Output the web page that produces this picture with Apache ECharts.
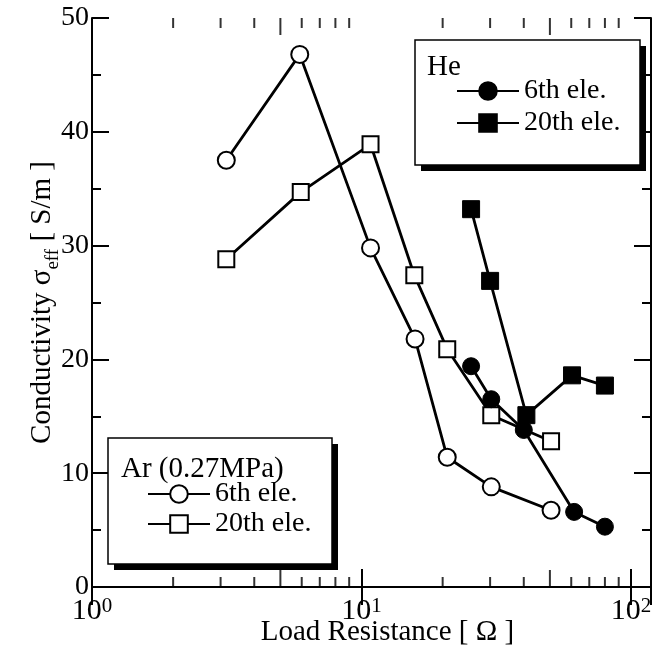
<!DOCTYPE html>
<html>
<head>
<meta charset="utf-8">
<script src="https://cdn.jsdelivr.net/npm/echarts@6/dist/echarts.min.js"></script>
<style>
html,body{margin:0;padding:0;background:#fff;}
#chart{width:657px;height:652px;}
</style>
</head>
<body>
<div id="chart"></div>
<script>
// ---- data ----
var arSixthX   = [3.15, 5.9, 10.8, 15.8, 20.8, 30.3, 50.5];
var arSixthY   = [37.5, 46.8, 29.8, 21.8, 11.4, 8.8, 6.75];
var arTwentyX  = [3.15, 5.95, 10.8, 15.7, 20.8, 30.3, 50.5];
var arTwentyY  = [28.8, 34.7, 38.9, 27.4, 20.9, 15.1, 12.8];
var heSixthX   = [25.5, 30.3, 40.0, 61.5, 80.0];
var heSixthY   = [19.4, 16.5, 13.8, 6.6, 5.3];
var heTwentyX  = [25.5, 30.0, 40.9, 60.4, 80.0];
var heTwentyY  = [33.2, 26.9, 15.1, 18.6, 17.7];
var shortTicksX = [2, 3, 4, 6, 7, 8, 9, 20, 30, 40, 60, 70, 80, 90];
var longTicksX  = [5, 50];
var yTickValues = [0, 10, 20, 30, 40, 50];

var FONT = 'Liberation Serif';
var X_MIN = 1, X_MAX = 118.6, Y_MIN = 0, Y_MAX = 50;

function pairs(xs, ys) { return xs.map(function (x, i) { return [x, ys[i]]; }); }
function tickPts(xs, y) { return xs.map(function (x) { return [x, y]; }); }

var chart = echarts.init(document.getElementById('chart'), null, {renderer: 'canvas'});

function tickSeries(xs, y, len, up) {
  return {
    type: 'scatter', silent: true, clip: false, z: 6,
    data: tickPts(xs, y),
    symbol: 'rect', symbolSize: [2, len],
    symbolOffset: [0, up ? -len / 2 : len / 2],
    itemStyle: {color: '#000'},
    tooltip: {show: false}
  };
}

var lineCommon = {
  type: 'line', symbolSize: 17, lineStyle: {color: '#000', width: 2.8},
  z: 3, animation: false
};

var option = {
  animation: false,
  backgroundColor: '#fff',
  grid: {left: 92, right: 6, top: 18, bottom: 65, outerBoundsMode: 'none', containLabel: false},
  xAxis: [{
    type: 'log', min: X_MIN, max: X_MAX, logBase: 10,
    axisLine: {lineStyle: {color: '#000', width: 2}},
    axisTick: {inside: true, length: 18, lineStyle: {color: '#000', width: 2}},
    splitLine: {show: false},
    axisLabel: {
      color: '#000', fontFamily: FONT, fontSize: 30, margin: 9,
      showMaxLabel: false,
      formatter: function (v) {
        var e = Math.log10(v);
        if (Math.abs(e - Math.round(e)) > 1e-6) return '';
        return '{b|10}{s|' + Math.round(e) + '}';
      },
      rich: {
        b: {fontFamily: FONT, fontSize: 30, color: '#000', verticalAlign: 'bottom', lineHeight: 30},
        s: {fontFamily: FONT, fontSize: 21, color: '#000', verticalAlign: 'top', lineHeight: 30, padding: [0, 0, 12, 0]}
      }
    },
    name: 'Load Resistance [ Ω ]', nameLocation: 'middle', nameGap: 31, nameMoveOverlap: false,
    nameTextStyle: {color: '#000', fontFamily: FONT, fontSize: 29, padding: [0, 0, 0, 32]}
  }, {
    type: 'log', min: X_MIN, max: X_MAX, logBase: 10, position: 'top',
    axisLine: {lineStyle: {color: '#000', width: 2}},
    axisTick: {inside: true, length: 18, lineStyle: {color: '#000', width: 2}},
    splitLine: {show: false}, axisLabel: {show: false}
  }],
  yAxis: [{
    type: 'value', min: Y_MIN, max: Y_MAX, interval: 10,
    axisLine: {show: true, lineStyle: {color: '#000', width: 2}},
    axisTick: {inside: true, length: 17, lineStyle: {color: '#000', width: 2}},
    minorTick: {show: true, splitNumber: 2, length: 9, lineStyle: {color: '#000', width: 2}},
    splitLine: {show: false},
    axisLabel: {color: '#000', fontFamily: FONT, fontSize: 28, margin: 3,
      formatter: function (v) { return yTickValues.indexOf(v) >= 0 ? String(v) : ''; }},
    name: '{a|Conductivity σ}{b|eff}{a| [ S/m ]}',
    nameLocation: 'middle', nameGap: 35, nameMoveOverlap: false,
    nameTextStyle: {
      rich: {
        a: {fontFamily: FONT, fontSize: 29, color: '#000', verticalAlign: 'bottom', lineHeight: 32},
        b: {fontFamily: FONT, fontSize: 19, color: '#000', verticalAlign: 'bottom', lineHeight: 32, padding: [0, 0, -6, 0]}
      }
    }
  }, {
    type: 'value', min: Y_MIN, max: Y_MAX, interval: 10, position: 'right',
    axisLine: {show: true, lineStyle: {color: '#000', width: 2}},
    axisTick: {inside: true, length: 17, lineStyle: {color: '#000', width: 2}},
    minorTick: {show: true, splitNumber: 2, length: 9, lineStyle: {color: '#000', width: 2}},
    splitLine: {show: false}, axisLabel: {show: false}
  }],
  legend: [{
    left: 451, top: 72, orient: 'vertical', itemWidth: 62, itemHeight: 22, itemGap: 4,
    data: ['He 6th', 'He 20th'],
    formatter: function (n) { return n === 'He 6th' ? '6th ele.' : '20th ele.'; },
    textStyle: {fontFamily: FONT, fontSize: 28, color: '#000', lineHeight: 28},
    selectedMode: false, z: 10
  }, {
    left: 142, top: 475, orient: 'vertical', itemWidth: 62, itemHeight: 22, itemGap: 2,
    data: ['Ar 6th', 'Ar 20th'],
    formatter: function (n) { return n === 'Ar 6th' ? '6th ele.' : '20th ele.'; },
    textStyle: {fontFamily: FONT, fontSize: 28, color: '#000', lineHeight: 28},
    selectedMode: false, z: 10
  }],
  graphic: [
    {type: 'rect', z: 8, shape: {x: 421, y: 46, width: 225, height: 125}, style: {fill: '#000'}},
    {type: 'rect', z: 9, shape: {x: 415, y: 40, width: 225, height: 125}, style: {fill: '#fff', stroke: '#000', lineWidth: 1.5}},
    {type: 'text', z: 11, left: 427, top: 53, style: {text: 'He', font: '29px "Liberation Serif"', fill: '#000'}},
    {type: 'rect', z: 8, shape: {x: 114, y: 444, width: 224, height: 126}, style: {fill: '#000'}},
    {type: 'rect', z: 9, shape: {x: 108, y: 438, width: 224, height: 126}, style: {fill: '#fff', stroke: '#000', lineWidth: 1.5}},
    {type: 'text', z: 11, left: 121, top: 455, style: {text: 'Ar (0.27MPa)', font: '29px "Liberation Serif"', fill: '#000'}}
  ],
  series: [
    Object.assign({}, lineCommon, {name: 'Ar 6th', data: pairs(arSixthX, arSixthY), symbol: 'circle',
      itemStyle: {color: '#fff', borderColor: '#000', borderWidth: 2}}),
    Object.assign({}, lineCommon, {name: 'Ar 20th', data: pairs(arTwentyX, arTwentyY), symbol: 'rect', symbolSize: 16,
      itemStyle: {color: '#fff', borderColor: '#000', borderWidth: 2}}),
    Object.assign({}, lineCommon, {name: 'He 6th', data: pairs(heSixthX, heSixthY), symbol: 'circle',
      itemStyle: {color: '#000', borderColor: '#000', borderWidth: 1}}),
    Object.assign({}, lineCommon, {name: 'He 20th', data: pairs(heTwentyX, heTwentyY), symbol: 'rect', symbolSize: 17,
      itemStyle: {color: '#000', borderColor: '#000', borderWidth: 1}}),
    tickSeries(shortTicksX, Y_MIN, 10, true),
    tickSeries(longTicksX, Y_MIN, 17, true),
    tickSeries(shortTicksX, Y_MAX, 10, false),
    tickSeries(longTicksX, Y_MAX, 17, false)
  ]
};
chart.setOption(option);
</script>
</body>
</html>
